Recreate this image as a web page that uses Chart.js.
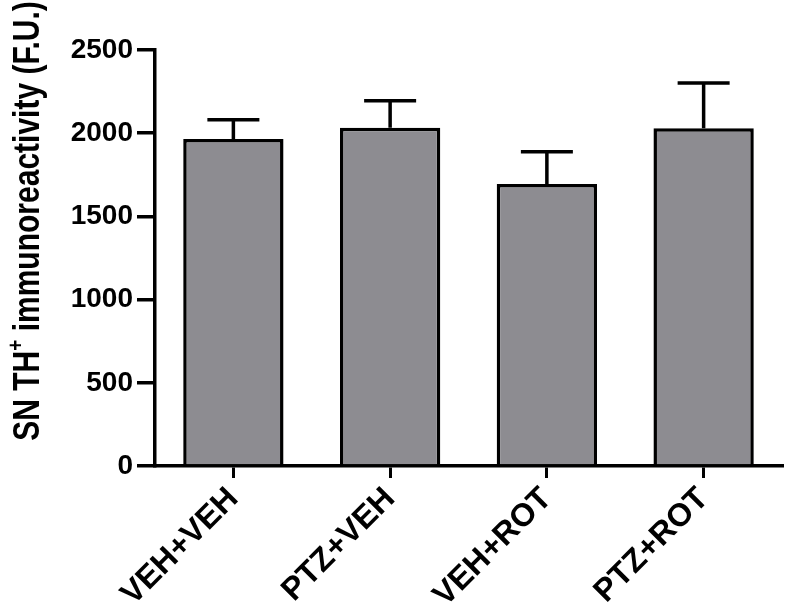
<!DOCTYPE html>
<html>
<head>
<meta charset="utf-8">
<script src="https://cdn.jsdelivr.net/npm/chart.js@4"></script>
<style>
  html, body { margin: 0; padding: 0; background: #fff; }
  #wrap { width: 787px; height: 608px; }
</style>
</head>
<body>
<div id="wrap"><canvas id="barChart" width="787" height="608"></canvas></div>
<script>
const groups = ["VEH+VEH", "PTZ+VEH", "VEH+ROT", "PTZ+ROT"];
const means = [1965, 2033, 1694, 2030];
const errors = [116, 162, 194, 271];
const yTicks = [0, 500, 1000, 1500, 2000, 2500];

const FONT = "'Liberation Sans', Arial, Helvetica, sans-serif";

// error bars (mean + SEM), drawn on top of the bars
const errorBars = {
  id: 'errorBars',
  afterDatasetsDraw(chart) {
    const ctx = chart.ctx;
    const y = chart.scales.y;
    const meta = chart.getDatasetMeta(0);
    ctx.save();
    ctx.strokeStyle = '#000';
    ctx.lineWidth = 3.5;
    meta.data.forEach((bar, i) => {
      const top = y.getPixelForValue(means[i] + errors[i]);
      ctx.beginPath();
      ctx.moveTo(bar.x, bar.y);
      ctx.lineTo(bar.x, top);
      ctx.moveTo(bar.x - 26, top);
      ctx.lineTo(bar.x + 26, top);
      ctx.stroke();
    });
    ctx.restore();
  }
};

// y axis title with a superscript +
const yTitle = {
  id: 'yTitle',
  afterDraw(chart) {
    const ctx = chart.ctx;
    const big = "bold 30px " + FONT;
    const small = "bold 19px " + FONT;
    const a = "SN TH", sup = "+", b = " immunoreactivity (F.U.)";
    ctx.save();
    ctx.translate(29, 221);
    ctx.rotate(-Math.PI / 2);
    ctx.scale(1, 1.2);
    ctx.fillStyle = '#000';
    ctx.textBaseline = 'middle';
    ctx.font = big;
    const wa = ctx.measureText(a).width, wb = ctx.measureText(b).width;
    ctx.font = small;
    const ws = ctx.measureText(sup).width;
    let x = -(wa + ws + wb) / 2;
    ctx.font = big;
    ctx.fillText(a, x, 0);
    x += wa;
    ctx.font = small;
    ctx.fillText(sup, x, -10);
    x += ws;
    ctx.font = big;
    ctx.fillText(b, x, 0);
    ctx.restore();
  }
};

new Chart(document.getElementById("barChart"), {
  type: 'bar',
  data: {
    labels: groups,
    datasets: [{
      data: means,
      backgroundColor: '#8d8c91',
      borderColor: '#000',
      borderWidth: 3.5,
      barPercentage: 0.64,
      categoryPercentage: 1
    }]
  },
  options: {
    responsive: false,
    animation: false,
    layout: { padding: { top: 50, right: 5, left: 0, bottom: 0 } },
    plugins: { legend: { display: false }, tooltip: { enabled: false } },
    scales: {
      x: {
        offset: true,
        afterFit: s => { s.height = 142; },
        grid: { display: true, drawOnChartArea: false, offset: false, color: '#000', lineWidth: 3, tickLength: 12 },
        border: { display: true, color: '#000', width: 3.5 },
        ticks: { color: '#000', font: { family: FONT, size: 32, weight: 'bold' }, maxRotation: 45, minRotation: 45, padding: 2 }
      },
      y: {
        min: 0,
        max: 2500,
        afterFit: s => { s.width = 155; },
        afterBuildTicks: s => { s.ticks = yTicks.map(v => ({ value: v })); },
        grid: { display: true, drawOnChartArea: false, color: '#000', lineWidth: 3.5, tickLength: 18 },
        border: { display: true, color: '#000', width: 3.5 },
        ticks: { color: '#000', font: { family: FONT, size: 28, weight: 'bold' }, padding: 4, callback: v => String(v) }
      }
    }
  },
  plugins: [errorBars, yTitle]
});
</script>
</body>
</html>
